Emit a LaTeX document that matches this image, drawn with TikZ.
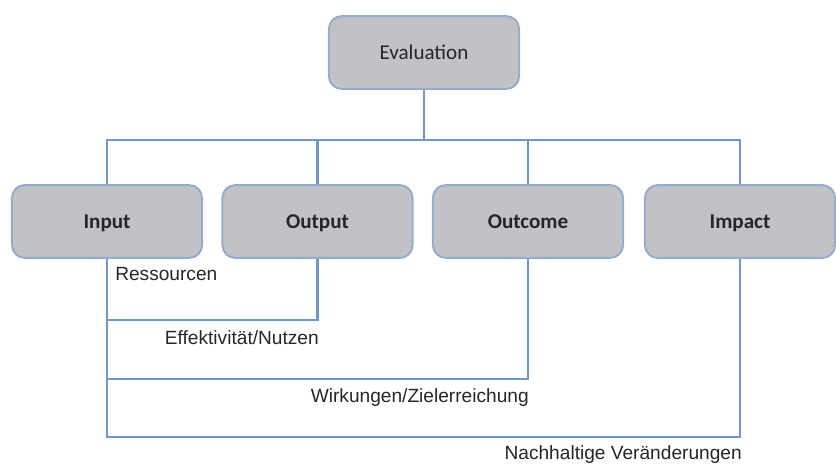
\documentclass[tikz,border=0pt]{standalone}
\usepackage{fontspec}
\setmainfont{Carlito}
\newfontfamily\arialfont{Liberation Sans}
\definecolor{boxgray}{RGB}{193,194,197}
\definecolor{boxedge}{RGB}{150,172,204}
\definecolor{linkblue}{RGB}{112,152,206}
\definecolor{textdark}{RGB}{38,38,38}
\tikzset{
    evalbox/.style={draw=boxedge, line width=1.4pt, fill=boxgray, rounded corners=9pt,
        minimum width=4.75cm, minimum height=1.82cm, text=textdark,
        text height=2.3ex, text depth=0.16ex,
        font=\fontsize{15}{18}\selectfont},
    levelbox/.style={evalbox, font=\fontsize{15}{18}\selectfont\bfseries},
    link/.style={draw=linkblue, line width=2pt},
    note/.style={inner sep=0pt, text=textdark, font=\arialfont\fontsize{13.6}{16}\selectfont}
}
\begin{document}
\begin{tikzpicture}[x=0.025cm, y=-0.025cm]
            \useasboundingbox (0,0) rectangle (836,467);
            \node[evalbox] (eval) at (424,52.5) {Evaluation};
            \node[levelbox] (input) at (107,221.5) {Input};
            \node[levelbox] (output) at (317.5,221.5) {Output};
            \node[levelbox] (outcome) at (528,221.5) {Outcome};
            \node[levelbox] (impact) at (740,221.5) {Impact};
            \coordinate (bus) at (424,140);
            \draw[link] (eval.south) -- (bus);
            \draw[link] (input.north) |- (bus) -| (impact.north);
            \draw[link] (output.north) -- (output.north |- bus);
            \draw[link] (outcome.north) -- (outcome.north |- bus);
            \draw[link] (output.south) |- (input.south |- 0,320);
            \draw[link] (outcome.south) |- (input.south |- 0,379);
            \draw[link] (impact.south) |- (input.south |- 0,437) -- (input.south);
            \node[note, anchor=west] (res) at (115,274) {Ressourcen};
            \node[note, anchor=east] (eff) at (319,338) {Effektivität/Nutzen};
            \node[note, anchor=east] (wirk) at (529,398) {Wirkungen/Zielerreichung};
            \node[note, anchor=east] (nach) at (742,455) {Nachhaltige Veränderungen};
        \end{tikzpicture}
\end{document}
